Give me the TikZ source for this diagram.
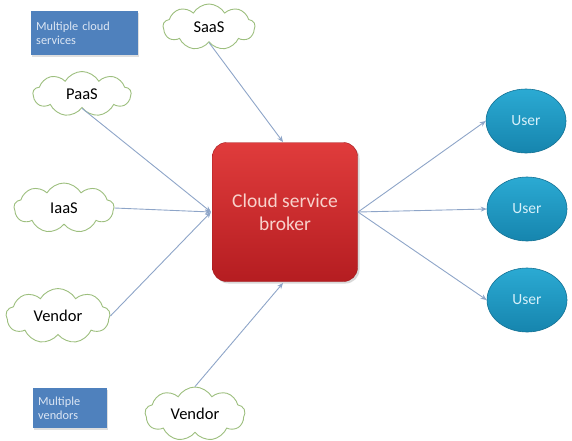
\documentclass[tikz,border=0pt]{standalone}
\usepackage{fontspec}
\setmainfont{Carlito}
\usetikzlibrary{shapes.symbols,shapes.geometric,arrows.meta,shadows}
\definecolor{cloudline}{HTML}{9DBF7E}
\definecolor{arrowc}{HTML}{8EA5C8}
\definecolor{boxblue}{HTML}{4F81BD}
\definecolor{boxtext}{HTML}{DCE6F4}
\definecolor{brokertop}{HTML}{E03C3C}
\definecolor{brokerbot}{HTML}{B51D21}
\definecolor{brokertext}{HTML}{F8D2CC}
\definecolor{usertop}{HTML}{2BAAD3}
\definecolor{userbot}{HTML}{1685AE}
\definecolor{usertext}{HTML}{D6F0FA}
\tikzset{
  cloudnode/.style={cloud, cloud puffs=9, cloud puff arc=120, aspect=1.9, draw=cloudline, line width=0.9pt, fill=white, inner sep=0pt, font=\fontsize{16.5}{18}\selectfont},
  infobox/.style={rectangle, fill=boxblue, text=boxtext, align=left, inner sep=5pt, anchor=north west, font=\fontsize{12.3}{14}\selectfont, drop shadow={shadow xshift=1pt, shadow yshift=-1.5pt, opacity=0.25}},
  broker/.style={rectangle, rounded corners=14pt, top color=brokertop, bottom color=brokerbot, draw=brokerbot!90!black, text=brokertext, align=center, minimum width=145pt, minimum height=139pt, font=\fontsize{19.5}{23}\selectfont, drop shadow={shadow xshift=2pt, shadow yshift=-2pt, opacity=0.3}},
  usernode/.style={ellipse, top color=usertop, bottom color=userbot, draw=userbot!85!black, line width=0.6pt, text=usertext, minimum width=80pt, minimum height=64pt, font=\fontsize{15.5}{17}\selectfont},
  conn/.style={draw=arrowc, line width=0.9pt, -{Stealth[length=6pt,width=5pt]}}
}
\begin{document}
\begin{tikzpicture}[x=1pt,y=-1pt]
\useasboundingbox (0,0) rectangle (572,440);
% info boxes
\node[infobox, minimum width=107pt, minimum height=44pt, text width=97pt] (mcs) at (31,11) {Multiple cloud\\services};
\node[infobox, minimum width=74pt, minimum height=40pt, text width=64pt] (mv) at (33,388) {Multiple\\vendors};
% clouds
\node[cloudnode, minimum width=92pt, minimum height=46pt] (saas) at (209,27) {SaaS};
\node[cloudnode, minimum width=98pt, minimum height=45pt] (paas) at (82,94) {PaaS};
\node[cloudnode, minimum width=100pt, minimum height=50pt] (iaas) at (64,208) {IaaS};
\node[cloudnode, minimum width=104pt, minimum height=55pt] (v1) at (58,316) {Vendor};
\node[cloudnode, minimum width=100pt, minimum height=54pt] (v2) at (195,414) {Vendor};
% broker
\node[broker] (broker) at (285,212) {Cloud service\\broker};
% users
\node[usernode] (u1) at (526,121) {User};
\node[usernode] (u2) at (527,209) {User};
\node[usernode] (u3) at (527,300) {User};
% connection points on broker
\coordinate (bt) at (283,142);
\coordinate (bl) at (211,212);
\coordinate (bb) at (283,283);
\coordinate (br) at (358,212);
% connectors
\draw[conn] (saas.south) -- (bt);
\draw[conn] (paas.south) -- (bl);
\draw[conn] (iaas.east) -- (bl);
\draw[conn] (v1.east) -- (bl);
\draw[conn] (v2.north) -- (bb);
\draw[conn] (br) -- (u1.west);
\draw[conn] (br) -- (u2.west);
\draw[conn] (br) -- (u3.west);
\end{tikzpicture}
\end{document}
